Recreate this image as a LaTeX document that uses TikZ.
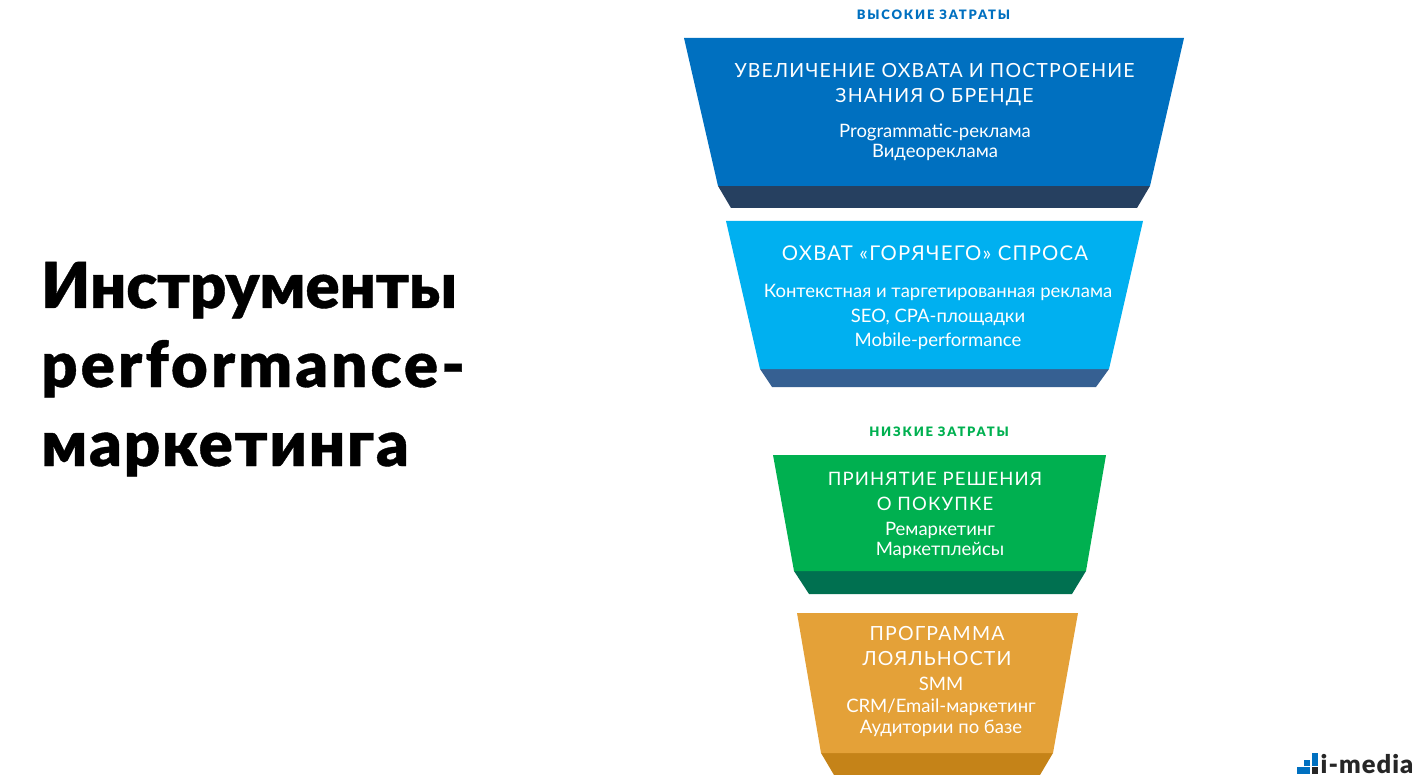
\documentclass[tikz,border=0pt]{standalone}
\usepackage{fontspec}
\setmainfont{Lato}
\newfontfamily\headfont[FakeBold=0.6]{Lato Black}
\newfontfamily\headfontb[FakeBold=0.6,LetterSpace=5]{Lato Black}
\newfontfamily\headfontc[FakeBold=0.6,LetterSpace=3]{Lato Black}
\newfontfamily\capsfont[LetterSpace=6]{Lato}
\newfontfamily\tagfont[LetterSpace=14]{Lato Black}
\newfontfamily\logofont[LetterSpace=4]{Lato Black}
\definecolor{cblue}{HTML}{0070C0}
\definecolor{cbluedark}{HTML}{264060}
\definecolor{ccyan}{HTML}{00B0F0}
\definecolor{ccyandark}{HTML}{366092}
\definecolor{cgreen}{HTML}{00B050}
\definecolor{cgreendark}{HTML}{007050}
\definecolor{corange}{HTML}{E4A138}
\definecolor{corangedark}{HTML}{C58318}
\definecolor{logodark}{HTML}{262626}
\tikzset{
  capstext/.style={text=white,align=center,font=\capsfont\fontsize{19.5}{25}\selectfont,inner sep=0pt},
  itemtext/.style={text=white,align=center,font=\fontsize{18.5}{20}\selectfont,inner sep=0pt},
  itemtextwide/.style={text=white,align=center,font=\fontsize{18.5}{24.5}\selectfont,inner sep=0pt},
  tagtext/.style={font=\tagfont\fontsize{13}{15}\selectfont,inner sep=0pt},
  headline/.style={anchor=base west,inner sep=0pt},
}
\begin{document}
\begin{tikzpicture}[x=1pt,y=-1pt]
\useasboundingbox (0,0) rectangle (1415,775);
% funnel sections
\fill[cbluedark] (718,186) -- (1150,186) -- (1137,208) -- (731,208) -- cycle;
\fill[cblue] (684,38) -- (1184,38) -- (1150,186) -- (718,186) -- cycle;
\fill[ccyandark] (760,369) -- (1109,369) -- (1096,387) -- (772,387) -- cycle;
\fill[ccyan] (726,221) -- (1143,221) -- (1109,369) -- (760,369) -- cycle;
\fill[cgreendark] (794,571) -- (1086,571) -- (1072,594) -- (809,594) -- cycle;
\fill[cgreen] (773,455) -- (1106,455) -- (1086,571) -- (794,571) -- cycle;
\fill[corangedark] (821,753) -- (1053,753) -- (1040,775) -- (834,775) -- cycle;
\fill[corange] (797,613) -- (1078,613) -- (1053,753) -- (821,753) -- cycle;
% tags
\node[tagtext,text=cblue] (tagHigh) at (933.5,14.5) {ВЫСОКИЕ ЗАТРАТЫ};
\node[tagtext,text=cgreen] (tagLow) at (939,431.5) {НИЗКИЕ ЗАТРАТЫ};
% section 1
\node[capstext] (t1) at (934.5,85) {УВЕЛИЧЕНИЕ ОХВАТА И ПОСТРОЕНИЕ\\ЗНАНИЯ О БРЕНДЕ};
\node[itemtext] (i1) at (935,142) {Programmatic-реклама\\Видеореклама};
% section 2
\node[capstext,font=\capsfont\fontsize{20.3}{25}\selectfont] (t2) at (935,253) {ОХВАТ «ГОРЯЧЕГО» СПРОСА};
\node[itemtextwide] (i2) at (938,317) {Контекстная и таргетированная реклама\\SEO, CPA-площадки\\Mobile-performance};
% section 3
\node[capstext,font=\capsfont\fontsize{18.5}{25}\selectfont] (t3) at (935,491) {ПРИНЯТИЕ РЕШЕНИЯ\\О ПОКУПКЕ};
\node[itemtext] (i3) at (940,540) {Ремаркетинг\\Маркетплейсы};
% section 4
\node[capstext] (t4) at (937,646) {ПРОГРАММА\\ЛОЯЛЬНОСТИ};
\node[itemtext,font=\fontsize{18.5}{21.5}\selectfont] (i4) at (941,707) {SMM\\CRM/Email-маркетинг\\Аудитории по базе};
% headline
\node[headline,font=\headfont\fontsize{63.3}{79}\selectfont] (h1) at (41,308) {Инструменты};
\node[headline,font=\headfontb\fontsize{63.3}{79}\selectfont] (h2) at (41,387) {performance-};
\node[headline,font=\headfontc\fontsize{63.3}{79}\selectfont] (h3) at (41,466) {маркетинга};
% logo
\fill[cblue] (1297,767) rectangle (1310,774);
\fill[cblue] (1304,760) rectangle (1310,765.5);
\fill[cblue] (1311.5,753) rectangle (1318,765.5);
\fill[logodark] (1311.5,767) rectangle (1318,774);
\node[font=\logofont\fontsize{25.5}{26}\selectfont,anchor=base west,inner sep=0pt,text=logodark] (logo) at (1320.5,773) {i-media};
\end{tikzpicture}
\end{document}
